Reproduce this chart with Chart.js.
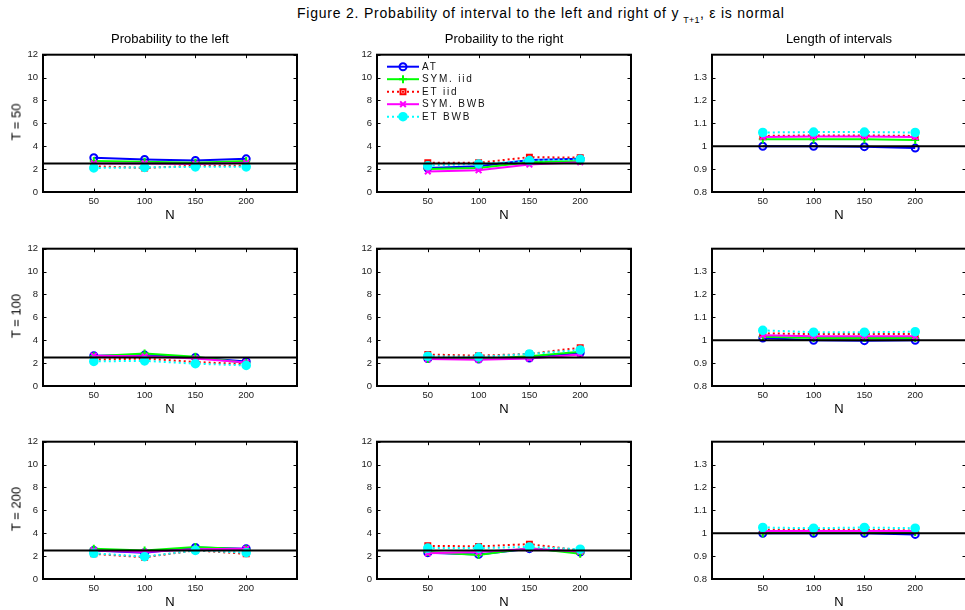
<!DOCTYPE html>
<html><head><meta charset="utf-8">
<script src="https://cdn.jsdelivr.net/npm/chart.js@4.4.0/dist/chart.umd.min.js"></script>
<style>
html,body{margin:0;padding:0;background:#fff;overflow:hidden;width:965px;height:610px;}
body{position:relative;font-family:"Liberation Sans",Arial,Helvetica,sans-serif;color:#000;}
.txt{position:absolute;white-space:nowrap;line-height:1;}
canvas{position:absolute;}
#title{letter-spacing:0.78px;}
#title .sub{font-size:9px;position:relative;top:5px;letter-spacing:0.3px;margin-left:4px;}
</style></head><body>
<div id="title" class="txt" style="left:297px;top:6px;font-size:14px;">Figure 2. Probability of interval to the left and right of y<span class="sub">T+1</span>, ε is normal</div>
<script>
// ---------------- DATA ----------------
const N = [50, 100, 150, 200];
const seriesNames = ['AT', 'SYM. iid', 'ET iid', 'SYM. BWB', 'ET BWB'];
const colTitles = ['Probability to the left', 'Probaility to the right', 'Length of intervals'];
const rowLabels = ['T = 50', 'T = 100', 'T = 200'];
const xTicks = [50, 100, 150, 200];
const probTicks = [0, 2, 4, 6, 8, 10, 12];
const lenTicks = [0.8, 0.9, 1, 1.1, 1.2, 1.3];
const probRange = [0, 12];
const lenRange = [0.8, 1.4];
const xRange = [0, 250];
const probRef = 2.5;
const lenRef = 1;

// rows: AT, SYM. iid, ET iid, SYM. BWB, ET BWB
const left_T50 = [
  [3.0, 2.85, 2.75, 2.9],
  [2.7, 2.65, 2.55, 2.7],
  [2.25, 2.1, 2.3, 2.3],
  [2.5, 2.5, 2.45, 2.55],
  [2.1, 2.15, 2.2, 2.2]
];
const right_T50 = [
  [2.1, 2.25, 2.8, 2.9],
  [2.0, 2.1, 2.6, 2.7],
  [2.55, 2.55, 3.05, 3.0],
  [1.8, 1.9, 2.4, 2.6],
  [2.3, 2.45, 2.75, 2.85]
];
const len_T50 = [
  [1.0, 1.0, 0.998, 0.992],
  [1.03, 1.03, 1.03, 1.027],
  [1.045, 1.047, 1.047, 1.045],
  [1.04, 1.043, 1.043, 1.04],
  [1.06, 1.062, 1.062, 1.06]
];
const left_T100 = [
  [2.65, 2.7, 2.5, 2.15],
  [2.6, 2.85, 2.55, 2.0],
  [2.3, 2.4, 2.1, 1.9],
  [2.65, 2.6, 2.4, 2.05],
  [2.15, 2.2, 1.95, 1.8]
];
const right_T100 = [
  [2.4, 2.35, 2.45, 2.9],
  [2.35, 2.35, 2.6, 3.0],
  [2.75, 2.65, 2.8, 3.35],
  [2.35, 2.3, 2.4, 2.75],
  [2.6, 2.55, 2.8, 3.15]
];
const len_T100 = [
  [1.01, 1.0, 0.998, 1.0],
  [1.015, 1.01, 1.01, 1.01],
  [1.03, 1.027, 1.027, 1.027],
  [1.022, 1.017, 1.017, 1.017],
  [1.043, 1.035, 1.035, 1.037]
];
const left_T200 = [
  [2.5, 2.3, 2.75, 2.65],
  [2.65, 2.5, 2.8, 2.6],
  [2.2, 1.9, 2.5, 2.2],
  [2.5, 2.35, 2.6, 2.65],
  [2.25, 1.95, 2.5, 2.3]
];
const right_T200 = [
  [2.3, 2.15, 2.65, 2.35],
  [2.35, 2.1, 2.7, 2.2],
  [2.9, 2.85, 3.05, 2.5],
  [2.25, 2.35, 2.65, 2.4],
  [2.7, 2.7, 2.8, 2.6]
];
const len_T200 = [
  [1.0, 1.0, 1.0, 0.995],
  [1.0, 1.005, 1.005, 1.005],
  [1.015, 1.015, 1.015, 1.012],
  [1.01, 1.01, 1.01, 1.01],
  [1.025, 1.022, 1.025, 1.022]
];

// ---------------- STYLE / LAYOUT ----------------
const seriesStyle = [
  {color:'#0000ff', dash:[], point:'circle', fill:'rgba(0,0,0,0)', r:3.5},
  {color:'#00ff00', dash:[], point:'cross', fill:'rgba(0,0,0,0)', r:4},
  {color:'#ff0000', dash:[2,3], point:'rect', fill:'rgba(0,0,0,0)', r:3.5},
  {color:'#ff00ff', dash:[], point:'crossRot', fill:'rgba(0,0,0,0)', r:4},
  {color:'#00ffff', dash:[2,3], point:'circle', fill:'#00ffff', r:3.8}
];
const FONT = '"Liberation Sans", Arial, Helvetica, sans-serif';
const colLeft = [43, 377, 712];
const rowTop = [52, 246, 439];
const plotW = 254, plotH = 140;
const padL = 40, padR = 8, padT = 8, padB = 22;

const panels = [
  [left_T50, right_T50, len_T50],
  [left_T100, right_T100, len_T100],
  [left_T200, right_T200, len_T200]
];

function addText(txt, x, y, size, rotate) {
  const d = document.createElement('div');
  d.className = 'txt';
  d.textContent = txt;
  d.style.left = x + 'px';
  d.style.top = y + 'px';
  d.style.fontSize = size + 'px';
  d.style.transform = 'translate(-50%,-50%)' + (rotate ? ' rotate(-90deg)' : '');
  document.body.appendChild(d);
}

const framePlugin = {
  id: 'frame',
  afterDatasetsDraw(chart) {
    const {ctx, chartArea: a, scales: {x, y}} = chart;
    ctx.save();
    ctx.strokeStyle = '#000';
    ctx.lineWidth = 1;
    ctx.beginPath();
    x.ticks.forEach(t => {
      const px = Math.round(x.getPixelForValue(t.value)) + 0.5;
      ctx.moveTo(px, a.bottom); ctx.lineTo(px, a.bottom - 3.5);
      ctx.moveTo(px, a.top); ctx.lineTo(px, a.top + 3.5);
    });
    y.ticks.forEach(t => {
      const py = Math.round(y.getPixelForValue(t.value)) + 0.5;
      ctx.moveTo(a.left, py); ctx.lineTo(a.left + 3.5, py);
      ctx.moveTo(a.right, py); ctx.lineTo(a.right - 3.5, py);
    });
    ctx.stroke();
    ctx.lineWidth = 2;
    ctx.strokeRect(a.left, a.top, a.right - a.left, a.bottom - a.top);
    ctx.restore();
  }
};

const legendPlugin = {
  id: 'mlegend',
  afterDraw(chart, args, opts) {
    if (!opts.show) return;
    const {ctx, chartArea: a} = chart;
    ctx.save();
    ctx.font = '10px ' + FONT;
    ctx.textBaseline = 'middle';
    ctx.textAlign = 'left';
    try { ctx.letterSpacing = '1.8px'; } catch (e) {}
    seriesNames.forEach((name, i) => {
      const st = seriesStyle[i];
      const yy = a.top + 12 + i * 12.5;
      const x0 = a.left + 10, x1 = a.left + 42, xm = a.left + 26;
      ctx.strokeStyle = st.color;
      ctx.lineWidth = 2;
      ctx.setLineDash(st.dash);
      ctx.beginPath(); ctx.moveTo(x0, yy); ctx.lineTo(x1, yy); ctx.stroke();
      ctx.setLineDash([]);
      ctx.fillStyle = st.fill;
      ctx.lineWidth = 2;
      Chart.helpers.drawPoint(ctx, {pointStyle: st.point, radius: st.r, rotation: 0, borderWidth: 2}, xm, yy);
      ctx.fillStyle = '#111';
      ctx.fillText(name, x1 + 3, yy + 0.5);
    });
    ctx.restore();
  }
};

function fmt(v) { return String(+(+v).toFixed(2)); }

panels.forEach((row, r) => {
  row.forEach((series, c) => {
    const isLen = c === 2;
    const cv = document.createElement('canvas');
    const W = padL + plotW + padR, H = padT + plotH + padB;
    cv.width = W; cv.height = H;
    cv.style.left = (colLeft[c] - padL) + 'px';
    cv.style.top = (rowTop[r] - padT) + 'px';
    cv.style.width = W + 'px'; cv.style.height = H + 'px';
    document.body.appendChild(cv);

    const yTicks = isLen ? lenTicks : probTicks;
    const yRange = isLen ? lenRange : probRange;
    const ref = isLen ? lenRef : probRef;

    const datasets = series.map((vals, i) => {
      const st = seriesStyle[i];
      return {
        label: seriesNames[i],
        data: vals.map((v, k) => ({x: N[k], y: v})),
        borderColor: st.color,
        borderWidth: 2,
        borderDash: st.dash,
        pointStyle: st.point,
        pointRadius: st.r,
        pointBorderWidth: 2,
        pointBorderColor: st.color,
        pointBackgroundColor: st.fill,
        fill: false,
        tension: 0,
        order: 5 - i + 1
      };
    });
    datasets.push({
      label: 'ref',
      data: [{x: xRange[0], y: ref}, {x: xRange[1], y: ref}],
      borderColor: '#000',
      borderWidth: 2,
      pointRadius: 0,
      fill: false,
      order: 0
    });

    new Chart(cv, {
      type: 'line',
      data: {datasets},
      plugins: [framePlugin, legendPlugin],
      options: {
        responsive: false,
        animation: false,
        devicePixelRatio: 1,
        layout: {padding: {top: padT, right: padR, left: 0, bottom: 0}},
        plugins: {
          legend: {display: false},
          tooltip: {enabled: false},
          mlegend: {show: r === 0 && c === 1}
        },
        scales: {
          x: {
            type: 'linear',
            min: xRange[0], max: xRange[1],
            afterBuildTicks: s => { s.ticks = xTicks.map(v => ({value: v})); },
            afterFit: s => { s.height = padB; },
            grid: {display: false, drawTicks: false},
            border: {display: false},
            ticks: {font: {size: 9.5, family: FONT}, color: '#1a1a1a', padding: 4, maxRotation: 0, autoSkip: false, callback: v => fmt(v)}
          },
          y: {
            type: 'linear',
            min: yRange[0], max: yRange[1],
            afterBuildTicks: s => { s.ticks = yTicks.map(v => ({value: v})); },
            afterFit: s => { s.width = padL; },
            grid: {display: false, drawTicks: false},
            border: {display: false},
            ticks: {font: {size: 9.5, family: FONT}, color: '#1a1a1a', padding: 5, autoSkip: false, callback: v => fmt(v)}
          }
        }
      }
    });

    const cx = colLeft[c] + plotW / 2;
    addText('N', cx, rowTop[r] + plotH + 22, 13, false);
    if (r === 0) addText(colTitles[c], cx, 38, 13, false);
    if (c === 0) addText(rowLabels[r], 16, rowTop[r] + plotH / 2, 13, true);
  });
});
</script>
</body></html>
